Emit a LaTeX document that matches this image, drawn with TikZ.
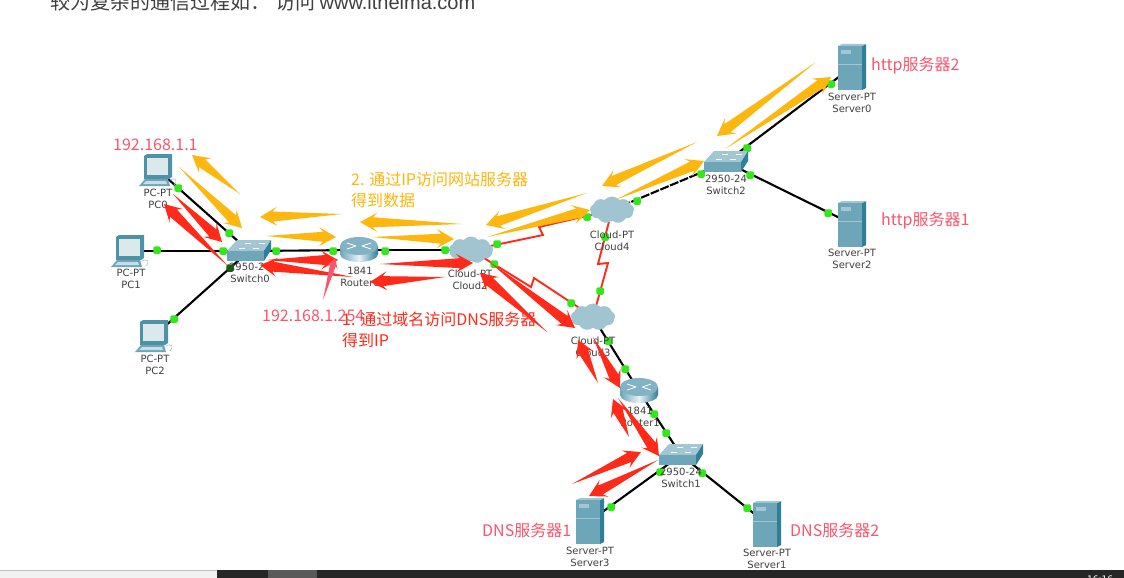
\documentclass[tikz,border=0pt]{standalone}
\usepackage{fontspec}
\setmainfont{DejaVu Sans}
\newfontfamily\cjk{Noto Sans CJK SC}
\newfontfamily\arialfont{Liberation Sans}
\usetikzlibrary{calc,shapes.symbols}
\definecolor{flowOrange}{HTML}{FDB70F}
\definecolor{flowRed}{HTML}{FF2A1A}
\definecolor{labelPink}{HTML}{F9566C}
\definecolor{portGreen}{HTML}{33E81A}
\definecolor{iconFace}{HTML}{6DA5B9}
\definecolor{iconTop}{HTML}{A3C6D3}
\definecolor{iconSide}{HTML}{2F7F99}
\newcommand{\flowarrow}[4][1]{
  \coordinate (neck) at ($(#3)!#1*13pt!(#2)$);
  \coordinate (barb) at ($(#3)!#1*17pt!(#2)$);
  \fill[#4] (#2) -- ($(neck)!#1*5pt!90:(#3)$) -- ($(barb)!#1*9.5pt!90:(#3)$) -- (#3)
    -- ($(barb)!#1*9.5pt!-90:(#3)$) -- ($(neck)!#1*5pt!-90:(#3)$) -- cycle;
}
\tikzset{
  link/.style={line width=2.1pt, black},
  zigzag/.style={line width=1.9pt, flowRed},
  port/.style={fill=portGreen, rounded corners=1.5pt, minimum size=7.5pt, inner sep=0pt},
  devtext/.style={font=\fontsize{10}{12}\selectfont, text=black!75, inner sep=0pt, align=center},
  pinktext/.style={font=\cjk\fontsize{16}{20}\selectfont, text=labelPink, inner sep=0pt, anchor=west},
  servericon/.pic={
    \fill[iconSide] (10,-21) -- (14,-23) -- (14,21) -- (10,23) -- cycle;
    \fill[iconTop] (-14,-21) -- (-10,-23) -- (14,-23) -- (10,-21) -- cycle;
    \fill[iconFace] (-14,-21) rectangle (10,23);
    \fill[iconTop] (-11,-17) rectangle (-1,-13);
    \draw[iconTop, line width=0.5pt] (-14,-3) -- (10,-3);
  },
  switchicon/.pic={
    \fill[iconTop] (-22,0) -- (-12,-11) -- (22,-11) -- (15,0) -- cycle;
    \fill[iconFace] (-22,0) rectangle (15,10);
    \fill[iconSide] (15,0) -- (22,-11) -- (22,-1) -- (15,10) -- cycle;
    \draw[white, line width=0.5pt] (-10,-3) -- (-4,-3) (-4,-8) -- (2,-8) (4,-3) -- (10,-3) (10,-8) -- (16,-8);
  },
  routericon/.pic={
    \shade[left color=iconFace, right color=iconSide, middle color=white!85!iconFace]
      (-19,-4) -- (-19,4) arc[start angle=180, end angle=0, x radius=19, y radius=8] -- (19,-4) -- cycle;
    \fill[iconFace!85!white] (0,-4) ellipse[x radius=19, y radius=9];
    \draw[white, line width=0.8pt] (-12,-7) -- (-3,-4) (12,-7) -- (3,-4) (-12,-1) -- (-3,-4) (12,-1) -- (3,-4);
  },
  pcicon/.pic={
    \fill[iconSide!85!white] (-14,-14) -- (-11,-16) -- (14,-16) -- (14,7) -- (11,9) -- (-14,9) -- cycle;
    \fill[iconFace!25!white] (-11,-12) rectangle (10,5);
    \fill[iconFace] (-19,16) -- (-13,9) -- (10,9) -- (12,16) -- cycle;
    \fill[iconTop!60!white] (-15,14) -- (-12,11) -- (8,11) -- (9,14) -- cycle;
    \draw[iconTop, line width=0.6pt] (12,10) .. controls (18,7) and (20,11) .. (16,15);
  },
}
\begin{document}
\begin{tikzpicture}[x=1pt, y=-1pt]
  \useasboundingbox (0,0) rectangle (1124,578);
  \fill[white] (0,0) rectangle (1124,578);
  % devices
  \coordinate (PC0) at (158,170);
  \coordinate (PC1) at (130,251);
  \coordinate (PC2) at (154,336);
  \coordinate (Switch0) at (249,251);
  \coordinate (Router0) at (359,250);
  \coordinate (Cloud2) at (471,250);
  \coordinate (Cloud4) at (612,210);
  \coordinate (Cloud3) at (593,317);
  \coordinate (Router1) at (639,391);
  \coordinate (Switch1) at (681,455);
  \coordinate (Switch2) at (726,162);
  \coordinate (Server0) at (852,67);
  \coordinate (Server2) at (852,224);
  \coordinate (Server3) at (590,521);
  \coordinate (Server1) at (767,524);
  % bends of the red links
  \coordinate (zigA) at (543,235);
  \coordinate (zigB) at (539,227);
  \coordinate (zigC) at (531,287);
  \coordinate (zigD) at (534,278);
  \coordinate (zigE) at (598,264);
  \coordinate (zigF) at (608,263);
  % links
  \draw[link] (PC0)--(Switch0);
  \draw[link] (PC1)--(Switch0);
  \draw[link] (PC2)--(Switch0);
  \draw[link] (Switch0)--(Router0);
  \draw[link] (Router0)--(Cloud2);
  \draw[link] (Cloud3)--(Router1);
  \draw[link] (Router1)--(Switch1);
  \draw[link] (Switch1)--(Server3);
  \draw[link] (Switch1)--(Server1);
  \draw[link] (Switch2)--(Server0);
  \draw[link] (Switch2)--(Server2);
  \draw[link, dash pattern=on 9pt off 1.5pt] (Cloud4)--(Switch2);
  \draw[zigzag] (Cloud2)--(zigA)--(zigB)--(Cloud4);
  \draw[zigzag] (Cloud2)--(zigC)--(zigD)--(Cloud3);
  \draw[zigzag] (Cloud4)--(zigE)--(zigF)--(Cloud3);
  % ports
  \foreach \n/\x/\y in {1/178/188, 2/229/233, 3/157/250, 4/223/251, 6/174/319, 7/276/251,
      8/333/251, 9/385/251, 10/445/250, 11/497/244, 12/587/217, 13/494/264, 14/571/303,
      15/605/237, 16/600/291, 17/608/341, 18/625/369, 19/654/414, 20/666/433, 21/660/472,
      22/611/507, 23/702/473, 24/747/508, 25/637/201, 26/701/174, 27/747/148, 28/831/84,
      29/750/175, 30/828/213}
    \node[port] (port\n) at (\x,\y) {};
  \node[port, fill=portGreen!40!black] (port5) at (230,268) {};
  % icons
  \pic at (PC0) {pcicon};
  \pic at (PC1) {pcicon};
  \pic at (PC2) {pcicon};
  \pic at (Switch0) {switchicon};
  \pic at (Switch1) {switchicon};
  \pic at (Switch2) {switchicon};
  \pic at (Router0) {routericon};
  \pic at (Router1) {routericon};
  \pic at (Server0) {servericon};
  \pic at (Server1) {servericon};
  \pic at (Server2) {servericon};
  \pic at (Server3) {servericon};
  \foreach \c in {Cloud2,Cloud3,Cloud4}
    \node[cloud, cloud puffs=9, cloud puff arc=100, aspect=1.7, minimum width=44pt, minimum height=27pt, inner sep=0pt,
      fill=iconFace!65!white] (\c icon) at (\c) {};
  % device names
  \foreach \n/\x/\y/\a/\b in {lPC0/158/199/PC-PT/PC0, lPC1/131/279/PC-PT/PC1, lPC2/155/365/PC-PT/PC2,
      lSw0/250/273/2950-24/Switch0, lRo0/360/277/1841/Router0, lCl2/470/280/Cloud-PT/Cloud2,
      lCl4/612/241/Cloud-PT/Cloud4, lCl3/593/347/Cloud-PT/Cloud3, lRo1/640/417/1841/Router1,
      lSw1/681/478/2950-24/Switch1, lSw2/726/185/2950-24/Switch2, lSe0/852/103/Server-PT/Server0,
      lSe2/852/259/Server-PT/Server2, lSe3/590/557/Server-PT/Server3, lSe1/767/559/Server-PT/Server1}
    \node[devtext] (\n) at (\x,\y) {\a\\[0.5pt]\b};
  % orange flow
  \foreach \n/\ax/\ay/\bx/\by in {1/240/194/192/155, 2/179/167/242/228, 3/342/214/260/217,
      4/266/236/336/237, 5/462/224/360/222, 6/372/237/454/239, 7/587/193/486/225,
      8/487/237/590/210, 9/697/142/602/186, 10/615/200/704/161, 11/816/62/717/136,
      12/725/149/831/77} {
    \coordinate (ot\n) at (\ax,\ay);
    \coordinate (oh\n) at (\bx,\by);
    \flowarrow{ot\n}{oh\n}{flowOrange}
  }
  % red flow
  \foreach \n/\ax/\ay/\bx/\by in {1/173/194/222/242, 2/228/266/164/204, 3/266/260/338/260,
      4/353/277/260/265, 5/380/264/473/263, 6/445/277/370/282, 7/487/260/575/328,
      8/547/332/480/273, 9/598/383/578/340, 10/593/337/620/388, 11/629/437/613/399,
      12/618/398/659/456, 13/572/484/641/452, 14/658/460/589/496} {
    \coordinate (rt\n) at (\ax,\ay);
    \coordinate (rh\n) at (\bx,\by);
    \flowarrow{rt\n}{rh\n}{flowRed}
  }
  % pointer to the router address
  \coordinate (ptrTail) at (323,300);
  \coordinate (ptrHead) at (335,258);
  \flowarrow[0.6]{ptrTail}{ptrHead}{labelPink}
  % notes
  \node[anchor=base west, inner sep=0pt, text=black!75, font=\fontsize{20}{24}\selectfont] (title) at (50,10)
    {\cjk 较为复杂的通信过程如：\hspace{5pt}访问 \arialfont www.itheima.com};
  \node[pinktext] (ipPC) at (113,145) {192.168.1.1};
  \node[pinktext] (ipRouter) at (262,316) {192.168.1.254};
  \node[pinktext, text=flowOrange, align=left, font=\cjk\fontsize{16}{20.5}\selectfont] (stepTwo) at (351,190)
    {2. 通过IP访问网站服务器\\得到数据};
  \node[pinktext, text=flowRed, align=left, font=\cjk\fontsize{16}{20.5}\selectfont] (stepOne) at (342,330)
    {1. 通过域名访问DNS服务器\\得到IP};
  \node[pinktext] (http2) at (871,66) {http服务器2};
  \node[pinktext] (http1) at (881,221) {http服务器1};
  \node[pinktext] (dns1) at (482,530) {DNS服务器1};
  \node[pinktext] (dns2) at (790,530) {DNS服务器2};
  % window bars at the bottom
  \fill[black!5] (0,570) rectangle (217,578);
  \draw[black!25, line width=0.6pt] (0,570) -- (217,570);
  \fill[black!85] (217,570) rectangle (1124,578);
  \fill[black!65] (268,570) rectangle (317,578);
  \node[text=white, inner sep=0pt, anchor=west, font=\fontsize{9}{10}\selectfont] (clock) at (1087,579) {16:16};
\end{tikzpicture}
\end{document}
